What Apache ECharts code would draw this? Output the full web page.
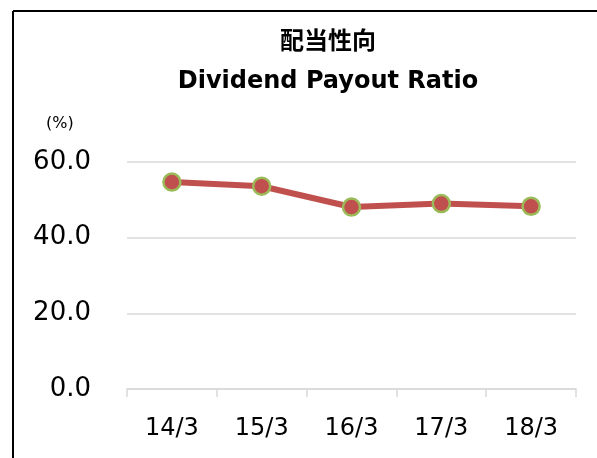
<!DOCTYPE html>
<html>
<head>
<meta charset="utf-8">
<script src="https://cdn.jsdelivr.net/npm/echarts@6/dist/echarts.min.js"></script>
<style>
  html, body { margin: 0; padding: 0; background: #fff; }
  #main { width: 597px; height: 458px; }
</style>
</head>
<body>
<div id="main"></div>
<script>
var categories = ['14/3', '15/3', '16/3', '17/3', '18/3'];
var payoutRatio = [54.7, 53.6, 48.1, 49.0, 48.3];
var yTicks = [0, 20, 40, 60];

var font = '"DejaVu Sans", "Noto Sans CJK JP", sans-serif';
var chart = echarts.init(document.getElementById('main'));

var option = {
    backgroundColor: '#fff',
    animation: false,
    graphic: [
        // chart frame (left and top edges visible)
        { type: 'line', shape: { x1: 13, y1: 11, x2: 597, y2: 11 }, style: { stroke: '#000', lineWidth: 2 } },
        { type: 'line', shape: { x1: 13, y1: 11, x2: 13, y2: 458 }, style: { stroke: '#000', lineWidth: 2 } },
        {
            type: 'text', x: 328, y: 40,
            style: {
                text: '配当性向', textAlign: 'center', textVerticalAlign: 'middle',
                font: 'bold 24px "Noto Sans CJK JP", sans-serif', fill: '#000'
            }
        },
        {
            type: 'text', x: 328, y: 82,
            style: {
                text: 'Dividend Payout Ratio', textAlign: 'center', textVerticalAlign: 'middle',
                font: 'bold 24px "DejaVu Sans", sans-serif', fill: '#000'
            }
        },
        {
            type: 'text', x: 46, y: 124,
            style: { text: '(%)', textVerticalAlign: 'middle', font: '16px "DejaVu Sans", sans-serif', fill: '#000' }
        }
    ],
    grid: { left: 127, right: 21, top: 162, bottom: 69, containLabel: false },
    xAxis: {
        type: 'category',
        data: categories,
        boundaryGap: true,
        axisLine: { lineStyle: { color: '#d9d9d9', width: 1.5 } },
        axisTick: { show: true, length: 8, lineStyle: { color: '#d9d9d9', width: 1.5 } },
        axisLabel: { fontFamily: font, fontSize: 24, color: '#000', margin: 28 }
    },
    yAxis: {
        type: 'value',
        min: yTicks[0],
        max: yTicks[yTicks.length - 1],
        interval: 20,
        axisLine: { show: false },
        axisTick: { show: false },
        splitLine: { lineStyle: { color: '#d9d9d9', width: 1.5 } },
        axisLabel: {
            fontFamily: font, fontSize: 26, color: '#000', margin: 36,
            formatter: function (v) { return v.toFixed(1); }
        }
    },
    series: [{
        type: 'line',
        data: payoutRatio,
        lineStyle: { color: '#C0504D', width: 6 },
        symbol: 'circle',
        symbolSize: 17,
        itemStyle: { color: '#C0504D', borderColor: '#9BBB59', borderWidth: 2.5 }
    }]
};
chart.setOption(option);
</script>
</body>
</html>
